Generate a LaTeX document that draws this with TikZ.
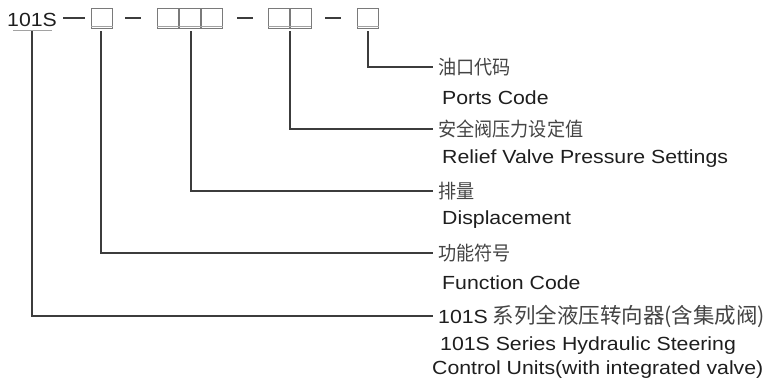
\documentclass[tikz,border=0pt]{standalone}
\usepackage{fontspec}
\setmainfont[FakeStretch=1.12]{Liberation Sans}
\newfontfamily\cjk[FakeStretch=0.93]{Noto Sans CJK SC}
\newfontfamily\cjkw{Noto Sans CJK SC}
\definecolor{ink}{HTML}{1E1E1E}
\definecolor{cink}{HTML}{444444}
\definecolor{lineink}{HTML}{3C3C3C}
\definecolor{boxink}{HTML}{7A7A7A}
\begin{document}
\begin{tikzpicture}[x=1pt,y=-1pt,
  en/.style={inner sep=0pt,anchor=west,text=ink,font=\fontsize{19}{22}\selectfont},
  cn/.style={inner xsep=5pt,inner ysep=0pt,anchor=west,text=cink,font=\cjk\fontsize{19.5}{22}\selectfont},
  cbox/.style={draw=boxink,line width=0.9pt,minimum width=21pt,minimum height=20pt,inner sep=0pt},
  dashseg/.style={draw=lineink,line width=1.1pt},
  uline/.style={draw=boxink!70,line width=1pt},
  conn/.style={draw=lineink,line width=1.1pt}]
\useasboundingbox (0,0) rectangle (768,381);
% top code row
\node[inner sep=0pt,anchor=base west,text=ink,font=\fontsize{19}{22}\selectfont] (code) at (7,26) {101S};
\coordinate (d1a) at (63,18); \coordinate (d1b) at (85,18);
\draw[dashseg] (d1a) -- (d1b);
\node[cbox] (b1) at (102,18) {};
\coordinate (d2a) at (125,18); \coordinate (d2b) at (141,18);
\draw[dashseg] (d2a) -- (d2b);
\node[cbox] (b2) at (168,18) {};
\node[cbox] (b3) at (190,18) {};
\node[cbox] (b4) at (212,18) {};
\coordinate (d3a) at (237,18); \coordinate (d3b) at (253,18);
\draw[dashseg] (d3a) -- (d3b);
\node[cbox] (b5) at (278.5,18) {};
\node[cbox] (b6) at (300.5,18) {};
\coordinate (d4a) at (325,18); \coordinate (d4b) at (341,18);
\draw[dashseg] (d4a) -- (d4b);
\node[cbox] (b7) at (368,18) {};
% underlines
\coordinate (u0a) at (13,30); \coordinate (u0b) at (52,30);
\draw[uline] (u0a) -- (u0b);
\draw[uline] ([yshift=2pt]b1.south west) -- ([yshift=2pt]b1.south east);
\draw[uline] ([yshift=2pt]b2.south west) -- ([yshift=2pt]b4.south east);
\draw[uline] ([yshift=2pt]b5.south west) -- ([yshift=2pt]b6.south east);
\draw[uline] ([yshift=2pt]b7.south west) -- ([yshift=2pt]b7.south east);
% labels
\node[cn] (c1) at (433,67) {油口代码};
\node[en] (e1) at (442,98) {Ports Code};
\node[cn] (c2) at (433,129) {安全阀压力设定值};
\node[en] (e2) at (442,159) {Relief Valve Pressure Settings};
\node[cn] (c3) at (433,191) {排量};
\node[en] (e3) at (442,220) {Displacement};
\node[cn] (c4) at (433,253) {功能符号};
\node[en] (e4) at (442,283) {Function Code};
\node[cn,font=\cjkw\fontsize{21.5}{24}\selectfont] (c5) at (433,316) {{\rmfamily\fontsize{19}{22}\selectfont\color{ink}101S} 系列全液压转向器(含集成阀)};
\node[en] (e5) at (440,346) {101S Series Hydraulic Steering};
\node[en] (e6) at (432,370) {Control Units(with integrated valve)};
% connectors
\coordinate (v0) at (32,31);
\coordinate (v1) at (101,31);
\coordinate (v2) at (191,31);
\coordinate (v3) at (290,31);
\coordinate (v4) at (368,31);
\draw[conn] (v4) |- (c1.west);
\draw[conn] (v3) |- (c2.west);
\draw[conn] (v2) |- (c3.west);
\draw[conn] (v1) |- (c4.west);
\draw[conn] (v0) |- (c5.west);
\end{tikzpicture}
\end{document}
